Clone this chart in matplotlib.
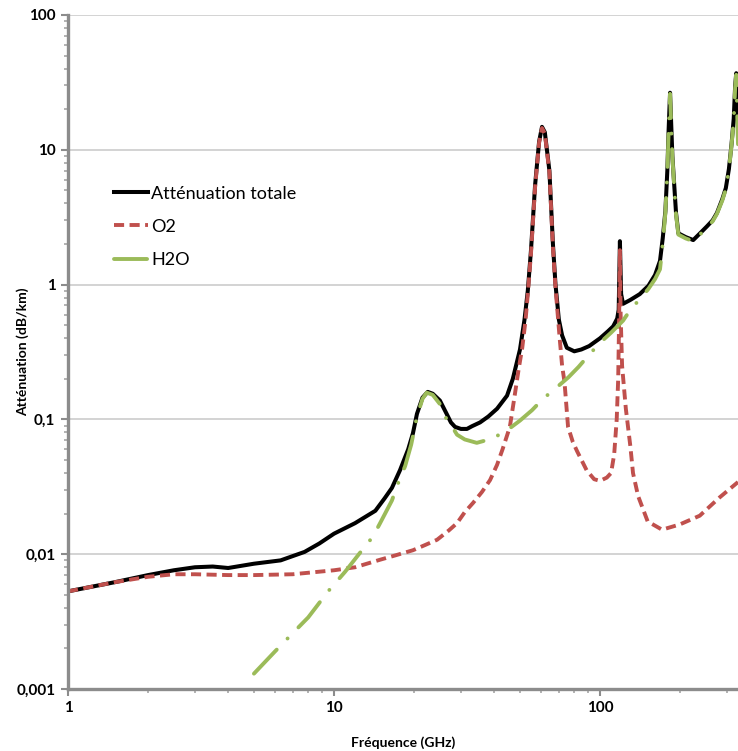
"""Atténuation atmosphérique (O2 + H2O) en fonction de la fréquence."""
import matplotlib
matplotlib.use("Agg")
import matplotlib.pyplot as plt
from matplotlib.ticker import FixedLocator, LogLocator, NullFormatter

plt.rcParams['font.family'] = ['Lato', 'DejaVu Sans']

# Atténuation totale
freq_tot = [1.0, 1.5, 2.0, 2.5, 3.0, 3.5, 4.0, 5.0, 6.3, 7.75, 8.8, 10.0, 12.0,
            14.3, 15.5, 16.5, 17.7, 19.0, 19.8, 20.5, 21.5, 22.5, 23.5, 25.0,
            26.5, 27.5, 28.5, 30.0, 31.6, 33.0, 35.4, 38.0, 41.0, 44.7, 47.0,
            50.0, 52.0, 53.5, 55.0, 57.0, 59.0, 60.5, 62.0, 64.5, 66.5, 68.0,
            70.0, 72.0, 75.0, 80.0, 85.0, 91.0, 100, 107, 112, 116, 117.5,
            118.75, 120, 122, 130, 141, 152, 161, 168, 172, 176, 179, 181,
            183.3, 185, 187, 190, 193, 197, 210, 224, 240, 252, 265, 275, 288,
            297, 305, 312, 318, 322, 325, 327, 330]
att_tot = [0.0053, 0.0062, 0.0070, 0.0076, 0.0080, 0.0081, 0.0079, 0.0085,
           0.0090, 0.0104, 0.0120, 0.0142, 0.0170, 0.021, 0.026, 0.031, 0.042,
           0.060, 0.079, 0.110, 0.145, 0.160, 0.155, 0.138, 0.110, 0.095,
           0.088, 0.085, 0.085, 0.089, 0.095, 0.105, 0.120, 0.150, 0.200,
           0.330, 0.55, 0.90, 1.8, 5.5, 11.5, 14.8, 13.5, 7.0, 2.0, 1.0, 0.55,
           0.42, 0.34, 0.32, 0.33, 0.35, 0.40, 0.45, 0.49, 0.56, 0.65, 2.1,
           0.85, 0.72, 0.77, 0.85, 0.98, 1.18, 1.5, 2.2, 3.5, 7.0, 14, 26.5,
           16, 9, 5.5, 3.4, 2.4, 2.25, 2.14, 2.45, 2.7, 3.0, 3.4, 4.3, 5.2,
           7.2, 11, 17, 30, 37, 24, 14]

# O2
freq_o2 = [1.0, 1.5, 2.0, 2.5, 3.0, 4.0, 5.0, 7.0, 10.0, 12.0, 14.9, 17.0,
           19.8, 22.0, 24.4, 27.0, 29.0, 31.0, 33.3, 36.0, 38.6, 41.0, 43.0,
           45.8, 47.5, 49.5, 51.0, 52.5, 53.5, 55.0, 57.0, 59.0, 60.5, 62.0,
           64.5, 66.5, 68.0, 70.5, 72.0, 73.5, 75.8, 79.0, 82.0, 89.0, 95.0,
           100, 106, 110, 113, 115.5, 117, 118, 118.75, 119.5, 121, 125, 130,
           133, 139, 151, 171, 199, 237, 281, 330]
att_o2 = [0.0053, 0.0062, 0.0068, 0.0071, 0.0071, 0.0070, 0.0070, 0.0071,
          0.0076, 0.0080, 0.0091, 0.0098, 0.0107, 0.0117, 0.0128, 0.0150,
          0.017, 0.0205, 0.024, 0.029, 0.0355, 0.046, 0.060, 0.088, 0.140,
          0.240, 0.34, 0.55, 0.85, 1.7, 5.3, 11.3, 14.5, 13.2, 6.8, 1.9, 0.95,
          0.40, 0.25, 0.19, 0.088, 0.068, 0.058, 0.042, 0.036, 0.035, 0.037,
          0.040, 0.055, 0.10, 0.20, 0.6, 1.8, 0.6, 0.25, 0.12, 0.063, 0.040,
          0.027, 0.0175, 0.0152, 0.0166, 0.0193, 0.0263, 0.0343]

# H2O
freq_h2o = [5.0, 6.0, 7.0, 8.0, 9.5, 11.0, 12.4, 14.0, 14.9, 16.5, 17.4, 18.5,
            19.5, 20.5, 21.5, 22.3, 23.5, 25.0, 26.5, 27.8, 29.0, 31.0, 34.4,
            39.3, 44.7, 50.0, 55.5, 61, 69, 76, 83, 90.7, 100, 110, 122, 130,
            141, 152, 161, 168, 172, 176, 179, 181, 183.3, 185, 187, 190, 193,
            197, 210, 224, 240, 252, 265, 275, 288, 297, 305, 312, 318, 322,
            325, 327, 330]
att_h2o = [0.0013, 0.0019, 0.0026, 0.0034, 0.0053, 0.0074, 0.0100, 0.0135,
           0.017, 0.025, 0.0335, 0.045, 0.065, 0.105, 0.142, 0.158, 0.152,
           0.130, 0.100, 0.088, 0.077, 0.071, 0.067, 0.072, 0.083, 0.098,
           0.117, 0.142, 0.174, 0.205, 0.245, 0.30, 0.37, 0.44, 0.54, 0.65,
           0.78, 0.93, 1.10, 1.30, 2.0, 3.4, 6.8, 13.5, 26, 15.5, 8.8, 5.3,
           3.3, 2.35, 2.2, 2.1, 2.4, 2.65, 2.95, 3.35, 4.2, 5.1, 7.1, 10.8,
           16.5, 29, 36, 22, 11]

y_ticks = [0.001, 0.01, 0.1, 1, 10, 100]
y_labels = ["0,001", "0,01", "0,1", "1", "10", "100"]
x_ticks = [1, 10, 100]
x_labels = ["1", "10", "100"]

fig = plt.figure(figsize=(7.38, 7.51), dpi=100)
ax = fig.add_axes([68 / 738, 62 / 751, 670 / 738, 674 / 751])

ax.plot(freq_tot, att_tot, color='black', lw=2.9, solid_joinstyle='round',
        label="Atténuation totale")
ax.plot(freq_o2, att_o2, color='#c0504d', lw=2.8, linestyle=(0, (2.6, 1.4)),
        label="O2")
ax.plot(freq_h2o, att_h2o, color='#9bbb59', lw=2.8,
        linestyle=(0, (8.5, 4, 0.01, 4)), dash_capstyle='round',
        label="H2O")

ax.set_xscale('log')
ax.set_yscale('log')
ax.set_xlim(1, 330)
ax.set_ylim(0.001, 100)

ax.yaxis.set_major_locator(FixedLocator(y_ticks))
ax.set_yticklabels(y_labels)
ax.xaxis.set_major_locator(FixedLocator(x_ticks))
ax.set_xticklabels(x_labels)
ax.xaxis.set_minor_locator(LogLocator(base=10, subs=range(2, 10), numticks=20))
ax.yaxis.set_minor_locator(LogLocator(base=10, subs=range(2, 10), numticks=20))
ax.xaxis.set_minor_formatter(NullFormatter())
ax.yaxis.set_minor_formatter(NullFormatter())

for lab in ax.get_xticklabels() + ax.get_yticklabels():
    lab.set_fontweight('bold')
    lab.set_fontsize(11)

ax.tick_params(which='major', direction='out', length=5, width=1.5,
               color='#8c8c8c', pad=4)
ax.tick_params(which='minor', direction='out', length=3, width=1.2,
               color='#a6a6a6')

ax.grid(axis='y', which='major', color='#c8c8c8', lw=1.1)
ax.set_axisbelow(True)

for side in ['top', 'right']:
    ax.spines[side].set_visible(False)
for side in ['left', 'bottom']:
    ax.spines[side].set_color('#8c8c8c')
    ax.spines[side].set_linewidth(2.4)

ax.set_xlabel("Fréquence (GHz)", fontsize=10, fontweight='bold', va='center')
ax.set_ylabel("Atténuation (dB/km)", fontsize=10, fontweight='bold', va='center')
ax.xaxis.set_label_coords(0.5, -0.079)
ax.yaxis.set_label_coords(-0.068, 0.5)

ax.legend(loc='upper left', bbox_to_anchor=(0.068, 0.747), frameon=False,
          fontsize=13, handlelength=1.9, handletextpad=0.2, labelspacing=0.95,
          borderpad=0, borderaxespad=0)

fig.savefig("out.png", dpi=100)
plt.close(fig)
